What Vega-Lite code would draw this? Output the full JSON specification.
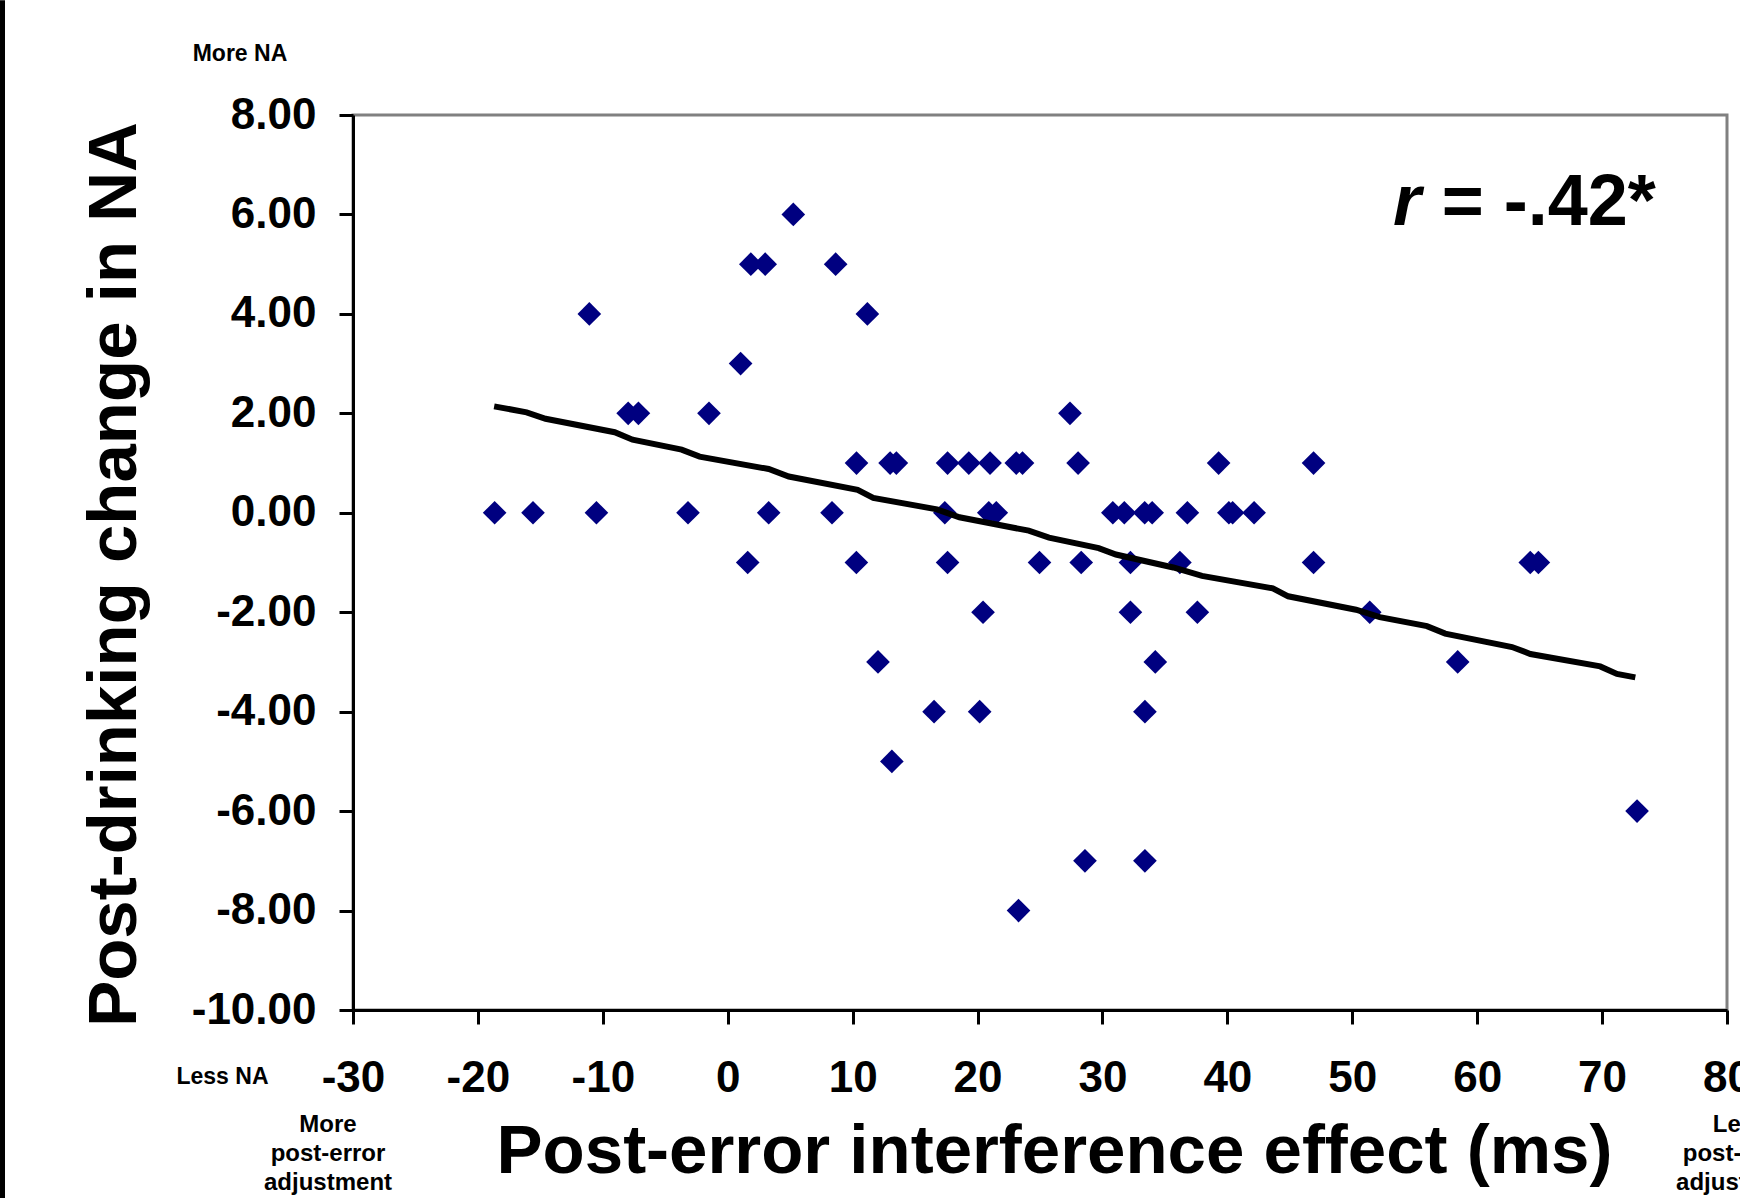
{
  "$schema": "https://vega.github.io/schema/vega-lite/v6.json",
  "width": 1374,
  "height": 895,
  "autosize": "none",
  "padding": {"left": 353, "top": 115, "right": 13, "bottom": 188},
  "background": "white",
  "config": {
    "locale": {"number": {"decimal": ".", "thousands": ",", "grouping": [3], "currency": ["$", ""], "minus": "-"}},
    "view": {"stroke": "#808080", "strokeWidth": 3},
    "font": "Liberation Sans"
  },
  "datasets": {
    "pts": [
      {"effect": 5.25, "change": 6},
      {"effect": 1.85, "change": 5}, {"effect": 3.0, "change": 5}, {"effect": 8.64, "change": 5},
      {"effect": -11.08, "change": 4}, {"effect": 11.18, "change": 4},
      {"effect": 1.03, "change": 3},
      {"effect": -7.97, "change": 2}, {"effect": -7.15, "change": 2}, {"effect": -1.5, "change": 2}, {"effect": 27.4, "change": 2},
      {"effect": 10.31, "change": 1}, {"effect": 13.0, "change": 1}, {"effect": 13.5, "change": 1}, {"effect": 17.6, "change": 1},
      {"effect": 19.3, "change": 1}, {"effect": 21.0, "change": 1}, {"effect": 23.1, "change": 1}, {"effect": 23.6, "change": 1},
      {"effect": 28.05, "change": 1}, {"effect": 39.3, "change": 1}, {"effect": 46.9, "change": 1},
      {"effect": -18.66, "change": 0}, {"effect": -15.59, "change": 0}, {"effect": -10.51, "change": 0}, {"effect": -3.18, "change": 0},
      {"effect": 3.28, "change": 0}, {"effect": 8.35, "change": 0}, {"effect": 17.38, "change": 0}, {"effect": 20.9, "change": 0},
      {"effect": 21.5, "change": 0}, {"effect": 30.83, "change": 0}, {"effect": 31.75, "change": 0}, {"effect": 33.38, "change": 0},
      {"effect": 33.98, "change": 0}, {"effect": 36.8, "change": 0}, {"effect": 40.12, "change": 0}, {"effect": 40.42, "change": 0},
      {"effect": 42.14, "change": 0},
      {"effect": 1.6, "change": -1}, {"effect": 10.3, "change": -1}, {"effect": 17.6, "change": -1}, {"effect": 24.96, "change": -1},
      {"effect": 28.3, "change": -1}, {"effect": 32.24, "change": -1}, {"effect": 36.2, "change": -1}, {"effect": 46.9, "change": -1},
      {"effect": 64.25, "change": -1}, {"effect": 64.9, "change": -1},
      {"effect": 20.44, "change": -2}, {"effect": 32.24, "change": -2}, {"effect": 37.6, "change": -2}, {"effect": 51.4, "change": -2},
      {"effect": 12.03, "change": -3}, {"effect": 34.23, "change": -3}, {"effect": 58.44, "change": -3},
      {"effect": 16.52, "change": -4}, {"effect": 20.17, "change": -4}, {"effect": 33.4, "change": -4},
      {"effect": 13.14, "change": -5},
      {"effect": 72.8, "change": -6},
      {"effect": 28.6, "change": -7}, {"effect": 33.4, "change": -7},
      {"effect": 23.28, "change": -8}
    ],
    "fit": [
      {"effect": -18.7, "change": 2.14}, {"effect": -16.1, "change": 2.02}, {"effect": -14.58, "change": 1.89},
      {"effect": -9.05, "change": 1.62}, {"effect": -7.62, "change": 1.47}, {"effect": -3.69, "change": 1.27},
      {"effect": -2.25, "change": 1.13}, {"effect": 3.28, "change": 0.88}, {"effect": 4.89, "change": 0.73},
      {"effect": 10.4, "change": 0.46}, {"effect": 11.65, "change": 0.30}, {"effect": 16.75, "change": 0.07},
      {"effect": 18.55, "change": -0.09}, {"effect": 24.1, "change": -0.36}, {"effect": 25.72, "change": -0.50},
      {"effect": 29.7, "change": -0.71}, {"effect": 31.08, "change": -0.84}, {"effect": 35.67, "change": -1.10},
      {"effect": 37.97, "change": -1.27}, {"effect": 43.64, "change": -1.52}, {"effect": 44.87, "change": -1.68},
      {"effect": 50.3, "change": -1.95}, {"effect": 52.2, "change": -2.10}, {"effect": 55.98, "change": -2.28},
      {"effect": 57.44, "change": -2.43}, {"effect": 62.79, "change": -2.70}, {"effect": 64.26, "change": -2.84},
      {"effect": 69.85, "change": -3.09}, {"effect": 71.19, "change": -3.24}, {"effect": 72.66, "change": -3.31}
    ],
    "one": [{}]
  },
  "layer": [
    {
      "data": {"name": "pts"},
      "mark": {"type": "point", "shape": "diamond", "filled": true, "color": "#000080", "opacity": 1, "size": 560},
      "encoding": {
        "x": {
          "field": "effect", "type": "quantitative",
          "scale": {"domain": [-30, 80], "nice": false, "zero": false},
          "axis": {
            "values": [-30, -20, -10, 0, 10, 20, 30, 40, 50, 60, 70, 80],
            "grid": false,
            "domainColor": "black", "domainWidth": 3,
            "tickColor": "black", "tickWidth": 3, "tickSize": 14,
            "labelFont": "Liberation Sans", "labelFontWeight": "bold", "labelFontSize": 44, "labelColor": "black",
            "labelPadding": 67, "labelBaseline": "alphabetic", "labelFlush": false, "labelOverlap": false, "labelBound": false,
            "title": "Post-error interference effect (ms)",
            "titleFont": "Liberation Sans", "titleFontWeight": "bold", "titleFontSize": 69, "titleColor": "black",
            "titleX": 701, "titleY": 162, "titleBaseline": "alphabetic", "titleAlign": "center"
          }
        },
        "y": {
          "field": "change", "type": "quantitative",
          "scale": {"domain": [-10, 8], "nice": false, "zero": false},
          "axis": {
            "values": [-10, -8, -6, -4, -2, 0, 2, 4, 6, 8],
            "format": ".2f",
            "grid": false,
            "domainColor": "black", "domainWidth": 3,
            "tickColor": "black", "tickWidth": 3, "tickSize": 14,
            "labelFont": "Liberation Sans", "labelFontWeight": "bold", "labelFontSize": 44, "labelColor": "black",
            "labelPadding": 23, "labelBaseline": "middle", "labelFlush": false, "labelOverlap": false, "labelBound": false,
            "title": "Post-drinking change in NA",
            "titleFont": "Liberation Sans", "titleFontWeight": "bold", "titleFontSize": 69, "titleColor": "black",
            "titleAngle": 270, "titleX": -218, "titleY": 459, "titleBaseline": "alphabetic", "titleAlign": "center"
          }
        }
      }
    },
    {
      "data": {"name": "fit"},
      "mark": {"type": "line", "color": "black", "strokeWidth": 6},
      "encoding": {
        "x": {"field": "effect", "type": "quantitative"},
        "y": {"field": "change", "type": "quantitative"}
      }
    },
    {
      "data": {"name": "one"},
      "mark": {"type": "text", "text": "More NA", "font": "Liberation Sans", "fontWeight": "bold", "fontSize": 23, "align": "center", "baseline": "alphabetic", "color": "black"},
      "encoding": {"x": {"datum": -39.05, "type": "quantitative"}, "y": {"datum": 9.09, "type": "quantitative"}}
    },
    {
      "data": {"name": "one"},
      "mark": {"type": "text", "text": "Less NA", "font": "Liberation Sans", "fontWeight": "bold", "fontSize": 23, "align": "center", "baseline": "alphabetic", "color": "black"},
      "encoding": {"x": {"datum": -40.45, "type": "quantitative"}, "y": {"datum": -11.49, "type": "quantitative"}}
    },
    {
      "data": {"name": "one"},
      "mark": {"type": "text", "text": ["More", "post-error", "adjustment"], "lineHeight": 29, "font": "Liberation Sans", "fontWeight": "bold", "fontSize": 24, "align": "center", "baseline": "alphabetic", "color": "black"},
      "encoding": {"x": {"datum": -32.0, "type": "quantitative"}, "y": {"datum": -12.45, "type": "quantitative"}}
    },
    {
      "data": {"name": "one"},
      "mark": {"type": "text", "text": ["Less", "post-error", "adjustment"], "lineHeight": 29, "font": "Liberation Sans", "fontWeight": "bold", "fontSize": 24, "align": "center", "baseline": "alphabetic", "color": "black"},
      "encoding": {"x": {"datum": 81.05, "type": "quantitative"}, "y": {"datum": -12.45, "type": "quantitative"}}
    },
    {
      "data": {"name": "one"},
      "mark": {"type": "text", "text": "r", "font": "Liberation Sans", "fontWeight": "bold", "fontStyle": "italic", "fontSize": 72, "align": "left", "baseline": "alphabetic", "color": "black"},
      "encoding": {"x": {"datum": 53.26, "type": "quantitative"}, "y": {"datum": 5.79, "type": "quantitative"}}
    },
    {
      "data": {"name": "one"},
      "mark": {"type": "text", "text": "= -.42*", "font": "Liberation Sans", "fontWeight": "bold", "fontSize": 72, "align": "left", "baseline": "alphabetic", "color": "black"},
      "encoding": {"x": {"datum": 57.16, "type": "quantitative"}, "y": {"datum": 5.79, "type": "quantitative"}}
    },
    {
      "data": {"name": "one"},
      "mark": {"type": "rule", "color": "black", "strokeWidth": 5, "clip": false},
      "encoding": {"x": {"datum": -58.06, "type": "quantitative"}, "y": {"datum": 10.31, "type": "quantitative"}, "y2": {"datum": -13.78}}
    }
  ]
}
